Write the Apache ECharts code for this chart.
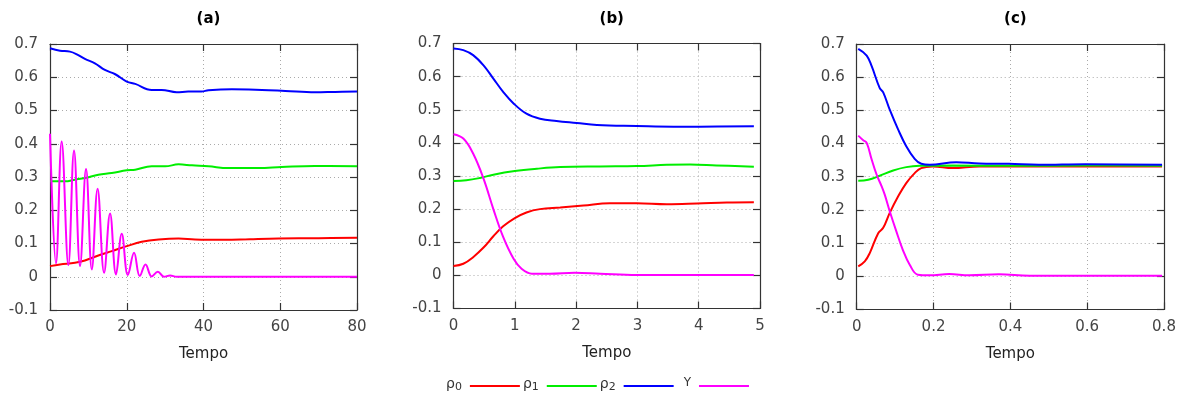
<!DOCTYPE html>
<html>
<head>
<meta charset="utf-8">
<script src="https://cdn.jsdelivr.net/npm/echarts@6/dist/echarts.min.js"></script>
<style>html,body{margin:0;padding:0;background:#fff}#c{width:1187px;height:397px}</style>
</head>
<body>
<div id="c"></div>
<script>
// ---------- data ----------
const panelTitles = ['(a)', '(b)', '(c)'];
const seriesNames = ['ρ0', 'ρ1', 'ρ2', 'Y'];
const seriesColors = ['#ff0000', '#00ee00', '#0000ff', '#ff00ff'];
const xLabel = 'Tempo';
const xMaxes = [80, 5, 0.8];
const xIntervals = [20, 1, 0.2];
const yTicks = [-0.1, 0, 0.1, 0.2, 0.3, 0.4, 0.5, 0.6, 0.7];

// panel (a)
const aRho0 = [[0,0.032],[2.6,0.037],[6.5,0.042],[9.1,0.049],[12.6,0.064],[16.1,0.077],[20,0.092],[23.9,0.105],[28.3,0.112],[33.5,0.115],[37.8,0.112],[45.6,0.111],[52,0.113],[59.6,0.115],[70,0.116],[80,0.117]];
const aRho1 = [[0,0.287],[3.9,0.287],[6.5,0.292],[9.1,0.297],[12.6,0.307],[16.1,0.312],[20,0.32],[22.2,0.322],[26.5,0.332],[30,0.332],[33.5,0.338],[37,0.335],[41.3,0.332],[46.5,0.327],[54.3,0.327],[60.4,0.33],[69,0.333],[80,0.332]];
const aRho2 = [[0,0.687],[2.6,0.68],[5.2,0.677],[7,0.669],[9.1,0.655],[11.7,0.642],[14.3,0.622],[17,0.609],[20,0.587],[22.2,0.58],[26.5,0.562],[29.1,0.562],[33,0.555],[36,0.557],[39.5,0.557],[41.3,0.561],[47.4,0.564],[55.2,0.562],[61.3,0.559],[69.1,0.555],[74.3,0.556],[80,0.557]];
const aY = [[0,0.43],[1.56,0.04],[3.04,0.407],[4.78,0.035],[6.26,0.38],[7.83,0.032],[9.39,0.324],[10.9,0.022],[12.4,0.265],[14.1,0.012],[15.65,0.19],[17.2,0.007],[18.7,0.129],[20.3,0.005],[21.9,0.072],[23.4,0.002],[24.9,0.037],[26.5,0.001],[28.1,0.015],[29.7,0],[31.3,0.004],[33,0],[45,0],[60,0],[80,0]];

// panel (b)
const bRho0 = [[0,0.028],[0.16,0.035],[0.32,0.055],[0.49,0.084],[0.65,0.118],[0.81,0.148],[1.0,0.173],[1.19,0.19],[1.41,0.2],[1.74,0.205],[2.12,0.211],[2.55,0.218],[2.99,0.218],[3.48,0.215],[3.97,0.217],[4.46,0.22],[4.9,0.221]];
const bRho1 = [[0,0.285],[0.21,0.287],[0.43,0.294],[0.65,0.304],[1.0,0.315],[1.36,0.322],[1.74,0.327],[2.39,0.329],[2.99,0.33],[3.48,0.334],[3.86,0.335],[4.29,0.332],[4.9,0.328]];
const bRho2 = [[0,0.685],[0.16,0.68],[0.32,0.665],[0.49,0.634],[0.65,0.594],[0.81,0.554],[0.98,0.519],[1.19,0.488],[1.41,0.473],[1.68,0.466],[2.01,0.46],[2.34,0.454],[2.99,0.451],[3.59,0.449],[4.02,0.449],[4.9,0.45]];
const bY = [[0,0.426],[0.16,0.413],[0.32,0.368],[0.49,0.292],[0.65,0.2],[0.81,0.116],[0.98,0.05],[1.11,0.02],[1.28,0.005],[1.57,0.005],[1.98,0.008],[2.39,0.005],[2.99,0.001],[4.0,0.001],[4.9,0.001]];

// panel (c)
const cRho0 = [[0.004,0.03],[0.021,0.045],[0.034,0.07],[0.056,0.13],[0.069,0.146],[0.086,0.191],[0.108,0.241],[0.129,0.281],[0.151,0.311],[0.168,0.326],[0.198,0.331],[0.25,0.326],[0.319,0.331],[0.45,0.331],[0.6,0.331],[0.795,0.331]];
const cRho1 = [[0.004,0.288],[0.03,0.291],[0.06,0.303],[0.095,0.319],[0.129,0.329],[0.164,0.333],[0.25,0.334],[0.4,0.333],[0.6,0.334],[0.795,0.333]];
const cRho2 = [[0.004,0.685],[0.026,0.665],[0.039,0.633],[0.06,0.567],[0.069,0.554],[0.086,0.502],[0.108,0.442],[0.129,0.392],[0.151,0.354],[0.168,0.339],[0.19,0.336],[0.259,0.344],[0.319,0.34],[0.396,0.339],[0.474,0.336],[0.595,0.338],[0.795,0.336]];
const cY = [[0.004,0.424],[0.017,0.41],[0.026,0.402],[0.039,0.352],[0.052,0.306],[0.065,0.271],[0.073,0.246],[0.086,0.196],[0.103,0.136],[0.12,0.08],[0.138,0.035],[0.159,0.005],[0.19,0.003],[0.241,0.007],[0.293,0.003],[0.37,0.006],[0.45,0.002],[0.56,0.002],[0.795,0.002]];

const panelData = [[aRho0, aRho1, aRho2, aY], [bRho0, bRho1, bRho2, bY], [cRho0, cRho1, cRho2, cY]];

// ---------- layout ----------
const grids = [
  {left: 50, top: 44, width: 307, height: 266},
  {left: 453.5, top: 43.5, width: 306.5, height: 265},
  {left: 856.7, top: 44, width: 307.3, height: 265.5}
];
const FONT = 'DejaVu Sans';
const axisCol = '#333';
const labelCol = '#444';
const fmt = v => String(+(+v).toFixed(2));

const legendFmt = name => name.startsWith('ρ') ? '{g|ρ}{s|' + name.slice(1) + '}' : '{y|' + name + '}';

const option = {
  animation: false,
  backgroundColor: '#fff',
  title: panelTitles.map((t, i) => ({
    text: t, left: grids[i].left + grids[i].width / 2, top: 7, textAlign: 'center',
    textStyle: {fontFamily: FONT, fontSize: 15, fontWeight: 'bold', color: '#000'}
  })),
  legend: {
    data: seriesNames, left: 441, top: 372, align: 'right', icon: 'rect',
    itemWidth: 50, itemHeight: 2, itemGap: 3,
    formatter: legendFmt,
    textStyle: {
      fontFamily: FONT, fontSize: 14, color: '#333', padding: [0, 3, 0, 0],
      rich: {
        g: {fontFamily: FONT, fontSize: 14, color: '#333', verticalAlign: 'top', lineHeight: 18},
        s: {fontFamily: FONT, fontSize: 11, color: '#333', verticalAlign: 'top', lineHeight: 18, padding: [5, 0, 0, 0]},
        y: {fontFamily: FONT, fontSize: 12, color: '#333', verticalAlign: 'top', lineHeight: 18, padding: [0, 0, 4, 7]}
      }
    }
  },
  grid: grids.map(g => Object.assign({containLabel: false}, g)),
  xAxis: [], yAxis: [], series: []
};

for (let i = 0; i < 3; i++) {
  const base = {gridIndex: i, type: 'value', min: 0, max: xMaxes[i], interval: xIntervals[i]};
  option.xAxis.push(Object.assign({}, base, {
    position: 'bottom', name: xLabel, nameLocation: 'middle', nameGap: 37,
    nameTextStyle: {fontFamily: FONT, fontSize: 15, color: '#222'},
    axisLine: {show: true, onZero: false, lineStyle: {color: axisCol, width: 1.2}},
    axisTick: {show: true, inside: true, length: 7, lineStyle: {color: axisCol, width: 1.2}},
    axisLabel: {fontFamily: FONT, fontSize: 15, color: labelCol, margin: 10, formatter: fmt},
    splitLine: {show: true, lineStyle: {color: '#aaa', type: [1, 3], width: 1}}
  }));
  option.xAxis.push(Object.assign({}, base, {
    position: 'top',
    axisLine: {show: true, onZero: false, lineStyle: {color: axisCol, width: 1.2}},
    axisTick: {show: true, inside: true, length: 7, lineStyle: {color: axisCol, width: 1.2}},
    axisLabel: {show: false}, splitLine: {show: false}
  }));
  const ybase = {gridIndex: i, type: 'value', min: yTicks[0], max: yTicks[yTicks.length - 1], interval: 0.1};
  option.yAxis.push(Object.assign({}, ybase, {
    position: 'left',
    axisLine: {show: true, onZero: false, lineStyle: {color: axisCol, width: 1.2}},
    axisTick: {show: true, inside: true, length: 7, lineStyle: {color: axisCol, width: 1.2}},
    axisLabel: {fontFamily: FONT, fontSize: 15, color: labelCol, margin: 12, formatter: v => String(+(+v).toFixed(1))},
    splitLine: {show: true, lineStyle: {color: '#aaa', type: [1, 3], width: 1}}
  }));
  option.yAxis.push(Object.assign({}, ybase, {
    position: 'right',
    axisLine: {show: true, onZero: false, lineStyle: {color: axisCol, width: 1.2}},
    axisTick: {show: true, inside: true, length: 7, lineStyle: {color: axisCol, width: 1.2}},
    axisLabel: {show: false}, splitLine: {show: false}
  }));
  for (let s = 0; s < 4; s++) {
    option.series.push({
      name: seriesNames[s], type: 'line', xAxisIndex: i * 2, yAxisIndex: i * 2,
      data: panelData[i][s], showSymbol: false, symbol: 'none', smooth: 0.4,
      lineStyle: {color: seriesColors[s], width: 2}, itemStyle: {color: seriesColors[s]},
      clip: true, z: 2 + (s === 3 ? 1 : 0)
    });
  }
}

const chart = echarts.init(document.getElementById('c'), null, {renderer: 'canvas'});
chart.setOption(option);
</script>
</body>
</html>
